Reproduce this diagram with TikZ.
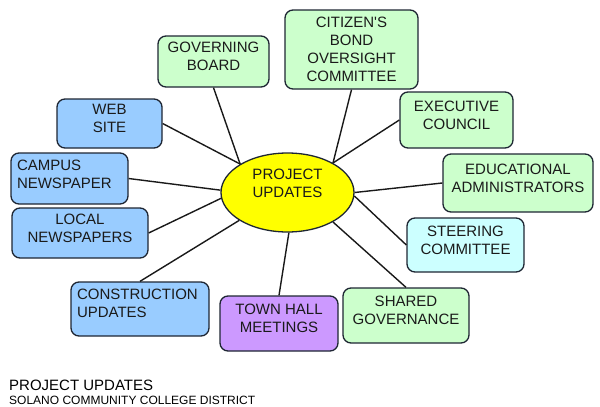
\documentclass[tikz,border=0pt]{standalone}
\usepackage{fontspec}
\setmainfont{Liberation Sans}
\usetikzlibrary{shapes.geometric}
\definecolor{mint}{HTML}{CCFFCC}
\definecolor{sky}{HTML}{99CCFF}
\definecolor{ice}{HTML}{CCFFFF}
\definecolor{lilac}{HTML}{CC99FF}
\definecolor{sun}{HTML}{FFFF00}
\definecolor{edge}{HTML}{1E2633}
\definecolor{ink}{HTML}{1A1A1A}
\tikzset{
  box/.style={draw=edge, line width=1.3pt, rounded corners=8pt, inner sep=0pt,
    align=center, text=ink, font=\fontsize{15}{18}\selectfont, text depth=10pt},
  hub/.style={ellipse, draw=edge, line width=1.3pt, fill=sun, inner sep=0pt,
    minimum width=133pt, minimum height=79pt, align=center, text=ink,
    font=\fontsize{15}{18}\selectfont},
  link/.style={line width=1.4pt, draw=black!90}
}
\begin{document}
\begin{tikzpicture}[x=1pt, y=-1pt]
  \useasboundingbox (0,0) rectangle (600,407);

  % centre
  \node[hub, text depth=19pt] (hub) at (287.5,192.5) {PROJECT\\UPDATES};

  % left side (blue)
  \node[box, minimum width=105pt, minimum height=49pt, fill=sky] (web)
    at (109.5,123.5) {WEB\\SITE};
  \node[box, minimum height=51pt, fill=sky, align=left, text width=105pt, inner xsep=6pt,
    text depth=27pt] (campus) at (69.5,178.5) {CAMPUS\\NEWSPAPER};
  \node[box, minimum width=136pt, minimum height=50pt, fill=sky] (local)
    at (80,233) {LOCAL\\NEWSPAPERS};
  \node[box, minimum height=54pt, fill=sky, align=left, text width=126pt, inner xsep=6pt,
    text depth=29pt] (constr) at (140,309) {CONSTRUCTION\\UPDATES};

  % top and right side (green)
  \node[box, minimum width=111pt, minimum height=51pt, fill=mint] (gov)
    at (213.5,61.5) {GOVERNING\\BOARD};
  \node[box, minimum width=133pt, minimum height=79pt, fill=mint, text depth=0pt] (citizen)
    at (351.5,49.5) {CITIZEN\textquotesingle S\\BOND\\OVERSIGHT\\COMMITTEE};
  \node[box, minimum width=113pt, minimum height=56pt, fill=mint] (exec)
    at (456.5,120) {EXECUTIVE\\COUNCIL};
  \node[box, minimum width=150pt, minimum height=58pt, fill=mint] (edu)
    at (518,183) {EDUCATIONAL\\ADMINISTRATORS};
  \node[box, minimum width=117pt, minimum height=54pt, fill=ice] (steer)
    at (465.5,245) {STEERING\\COMMITTEE};
  \node[box, minimum width=126pt, minimum height=55pt, fill=mint] (shared)
    at (406,315.5) {SHARED\\GOVERNANCE};
  \node[box, minimum width=118pt, minimum height=55pt, fill=lilac] (town)
    at (279,323.5) {TOWN HALL\\MEETINGS};

  % spokes
  \draw[link] (gov.south) -- (hub.149);
  \draw[link] (web.east) -- (hub.149);
  \draw[link] (campus.east) -- (hub.178);
  \draw[link] (local.east) -- (hub.185);
  \draw[link] (constr.north) -- (hub.210);
  \draw[link] (town.north) -- (hub.272);
  \draw[link] (shared.north) -- (hub.327);
  \draw[link] (steer.west) -- (hub.357);
  \draw[link] (edu.west) -- (hub.0);
  \draw[link] (exec.west) -- (hub.33);
  \draw[link] (citizen.south) -- (hub.33);

  % caption
  \node[anchor=base west, inner sep=0pt, font=\fontsize{15}{18}\selectfont]
    (title) at (9,390) {PROJECT UPDATES};
  \node[anchor=base west, inner sep=0pt, font=\fontsize{12}{14}\selectfont]
    (district) at (9,404) {SOLANO COMMUNITY COLLEGE DISTRICT};
\end{tikzpicture}
\end{document}
